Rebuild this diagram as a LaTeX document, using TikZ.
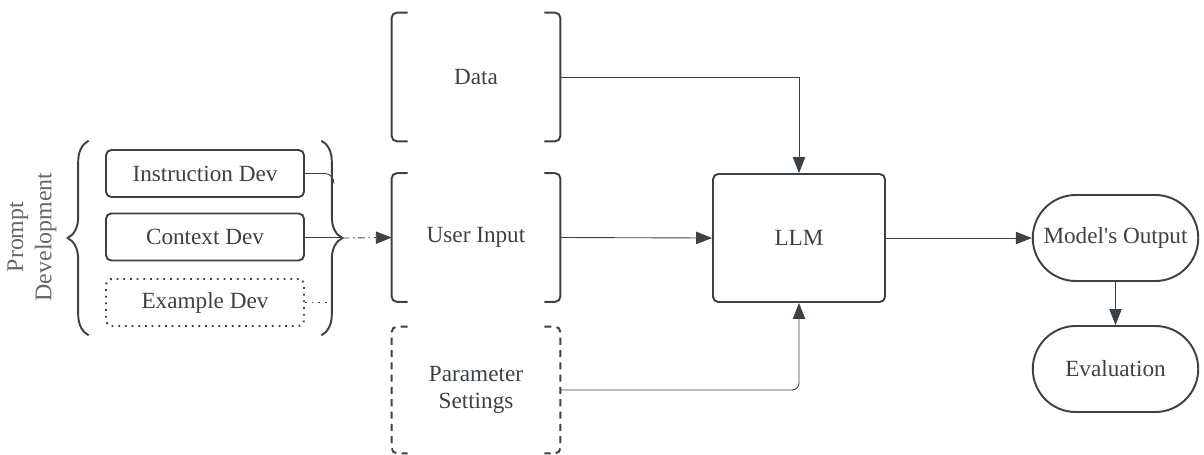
\documentclass[tikz,border=0pt]{standalone}
\usepackage{fontspec}
\setmainfont{Liberation Serif}
\newfontfamily\rawserif{Liberation Serif}
\usetikzlibrary{arrows.meta,decorations.pathreplacing,fit,calc,shapes.misc}
\definecolor{ink}{HTML}{3B4247}
\definecolor{soft}{HTML}{62676B}
\tikzset{>/.tip={Triangle[length=9pt,width=7pt]},
  txt/.style={text=ink,font=\fontsize{13.2}{15.5}\selectfont},
  devbox/.style={txt,draw=ink,line width=1.1pt,rounded corners=3pt,minimum width=3.96cm,minimum height=0.94cm},
  group/.style={txt,align=center,minimum width=3.36cm,minimum height=2.56cm,inner sep=0pt},
  bracket/.style={draw=ink,line width=1.1pt,rounded corners=3pt},
  brace/.style={draw=ink,line width=1.1pt,decorate,decoration={brace,amplitude=0.42cm}},
  wire/.style={draw=ink,line width=0.5pt},
  pill/.style={txt,draw=ink,line width=1.1pt,rounded rectangle,minimum width=3.38cm,minimum height=1.72cm,inner sep=1pt}}

\begin{document}
\begin{tikzpicture}
 \useasboundingbox (0,0) rectangle (24.08,-9.08);

 % prompt development
 \node[devbox] (inst) at (4.10,-3.47) {Instruction Dev};
 \node[devbox] (ctx)  at (4.10,-4.74) {Context Dev};
 \node[devbox,dash pattern=on 1pt off 2.8pt] (ex) at (4.10,-6.05) {Example Dev};
 \node[fit=(inst)(ex),inner xsep=0.32cm,inner ysep=0.16cm] (dev) {};
 \node[txt,text=soft,rotate=90,align=center,font=\fontsize{13.6}{16}\selectfont] (pd) at (0.64,-4.74) {Prompt\\Development};
 \draw[brace] (dev.south west) -- (dev.north west);
 \draw[brace] (dev.north east) -- (dev.south east);
 \coordinate (tip) at ([xshift=0.42cm]dev.east);

 % inputs
 \node[group] (data)  at (9.52,-1.54) {Data};
 \node[group] (user)  at (9.52,-4.75) {User Input};
 \node[group,minimum height=2.52cm] (param) at (9.52,-7.80) {Parameter\\Settings};
 \foreach \n in {data,user} {
   \draw[bracket] ([xshift=0.32cm]\n.north west) -| (\n.south west) -- ++(0.32,0);
   \draw[bracket] ([xshift=-0.32cm]\n.north east) -| (\n.south east) -- ++(-0.32,0);
 }
 \draw[bracket,dash pattern=on 4pt off 3pt] ([xshift=0.32cm]param.north west) -| (param.south west) -- ++(0.32,0);
 \draw[bracket,dash pattern=on 4pt off 3pt] ([xshift=-0.32cm]param.north east) -| (param.south east) -- ++(-0.32,0);

 % model and output
 \node[devbox,minimum width=3.44cm,minimum height=2.56cm] (llm) at (15.98,-4.76) {LLM};
 \node[pill] (out)  at (22.31,-4.76) {Model{\rawserif '}s Output};
 \node[pill] (eval) at (22.31,-7.38) {Evaluation};

 \draw[wire] (inst.east) -- ++(0.4,0) to[out=0,in=90] ++(0.18,-0.2);
 \draw[wire] (ctx.east) -- (ctx.east -| tip);
 \draw[wire,dash pattern=on 1pt off 2.8pt] (ex.east) -- ($(ex.east -| tip)+(-0.2,0)$);
 \draw[wire,->,dash pattern=on 4pt off 2pt on 1pt off 2pt] (tip) -- (user.west);

 \draw[wire,->] (data.east) -| (llm.north);
 \draw[wire,->] (user.east) -- (llm.west);
 \draw[wire,->,rounded corners=4pt] (param.east) -| (llm.south);
 \draw[wire,->] (llm.east) -- (out.west);
 \draw[wire,->] (out.south) -- (eval.north);
\end{tikzpicture}
\end{document}
